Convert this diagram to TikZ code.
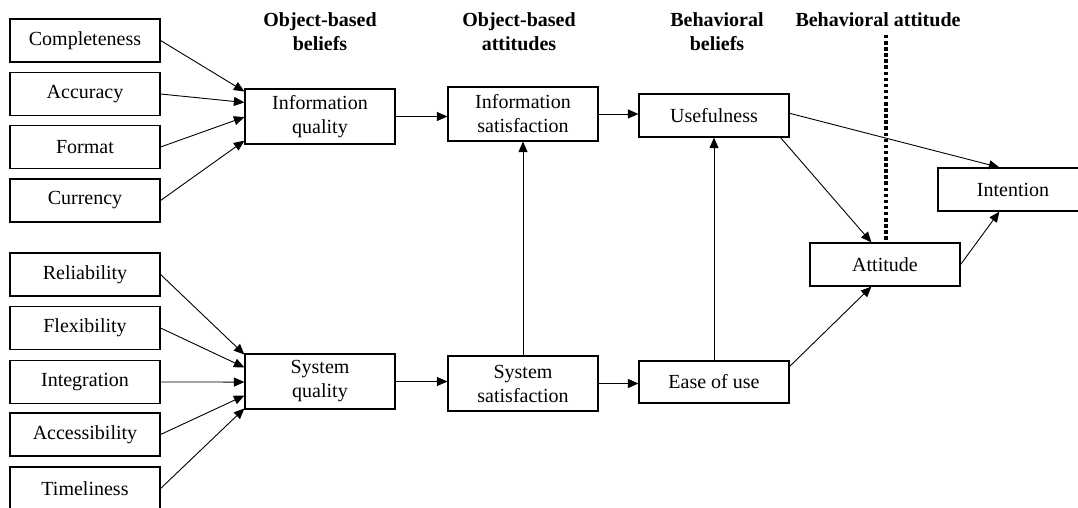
\documentclass[tikz,border=0pt]{standalone}
\usepackage{fontspec}
\setmainfont{Liberation Serif}
\usetikzlibrary{arrows.meta,calc}
\begin{document}
\begin{tikzpicture}[x=1pt,y=-1pt,
  every node/.style={font=\fontsize{20}{24}\selectfont},
  box/.style={draw, line width=1.2pt, minimum width=150pt, inner sep=0pt, align=center},
  hdr/.style={font=\fontsize{20}{24}\selectfont\bfseries, align=center, inner sep=0pt},
  arr/.style={line width=0.9pt, -{Triangle[length=10.5pt,width=9pt]}}]
\useasboundingbox (0,0) rectangle (1078,508);
\clip (0,0) rectangle (1078,508);
% headers
\node[hdr] (h1) at (320,32) {Object-based\\beliefs};
\node[hdr] (h2) at (519,32) {Object-based\\attitudes};
\node[hdr] (h3) at (717,32) {Behavioral\\beliefs};
\node[hdr] (h4) at (878,20) {Behavioral attitude};
% left boxes
\node[box, minimum height=43pt] (comp) at (85,40.5) {Completeness};
\node[box, minimum height=43pt] (acc) at (85,94) {Accuracy};
\node[box, minimum height=43pt] (fmt) at (85,147) {Format};
\node[box, minimum height=43pt] (cur) at (85,200.5) {Currency};
\node[box, minimum height=43pt] (rel) at (85,274.5) {Reliability};
\node[box, minimum height=43pt] (flex) at (85,328) {Flexibility};
\node[box, minimum height=43pt] (integ) at (85,382) {Integration};
\node[box, minimum height=43pt] (access) at (85,434.5) {Accessibility};
\node[box, minimum height=43pt] (time) at (85,488.5) {Timeliness};
% middle
\node[box, minimum height=55pt] (iq) at (320,116.5) {Information\\quality};
\node[box, minimum height=55pt] (sq) at (320,381.5) {System\\quality};
\node[box, minimum height=54pt] (is) at (523,114) {Information\\satisfaction};
\node[box, minimum height=55pt] (ss) at (523,383.5) {System\\satisfaction};
\node[box, minimum height=43pt] (use) at (714,115.5) {Usefulness};
\node[box, minimum height=42pt] (eou) at (714,382) {Ease of use};
\node[box, minimum height=43pt] (att) at (885,264.5) {Attitude};
\node[box, minimum height=43pt] (int) at (1013,189.5) {Intention};
% dotted separator
\coordinate (d1) at (886,35);
\coordinate (d2) at (886,241);
\draw[line width=4pt, dash pattern=on 3.5pt off 2.6pt] (d1) -- (d2);
% arrows into information quality
\draw[arr] (comp.east) -- ($(iq.north west)!0.055!(iq.south west)$);
\draw[arr] (acc.east) -- ($(iq.north west)!0.25!(iq.south west)$);
\draw[arr] (fmt.east) -- ($(iq.north west)!0.51!(iq.south west)$);
\draw[arr] (cur.east) -- ($(iq.north west)!0.93!(iq.south west)$);
% arrows into system quality
\draw[arr] (rel.east) -- ($(sq.north west)!0.02!(sq.south west)$);
\draw[arr] (flex.east) -- ($(sq.north west)!0.25!(sq.south west)$);
\draw[arr] (integ.east) -- ($(sq.north west)!0.51!(sq.south west)$);
\draw[arr] (access.east) -- ($(sq.north west)!0.75!(sq.south west)$);
\draw[arr] (time.east) -- ($(sq.north west)!0.98!(sq.south west)$);
% main chain
\draw[arr] (iq.east) -- (is.west |- iq.east);
\draw[arr] (is.east) -- (use.west |- is.east);
\draw[arr] (sq.east) -- (ss.west |- sq.east);
\draw[arr] (ss.east) -- (eou.west |- ss.east);
\draw[arr] (ss.north) -- (is.south);
\draw[arr] (eou.north) -- (use.south);
\draw[arr] ($(use.north east)!0.45!(use.south east)$) -- ($(int.north west)!0.41!(int.north east)$);
\draw[arr] ($(use.south west)!0.94!(use.south east)$) -- ($(att.north west)!0.41!(att.north east)$);
\draw[arr] ($(eou.north east)!0.14!(eou.south east)$) -- ($(att.south west)!0.41!(att.south east)$);
\draw[arr] (att.east) -- ($(int.south west)!0.41!(int.south east)$);
\end{tikzpicture}
\end{document}
